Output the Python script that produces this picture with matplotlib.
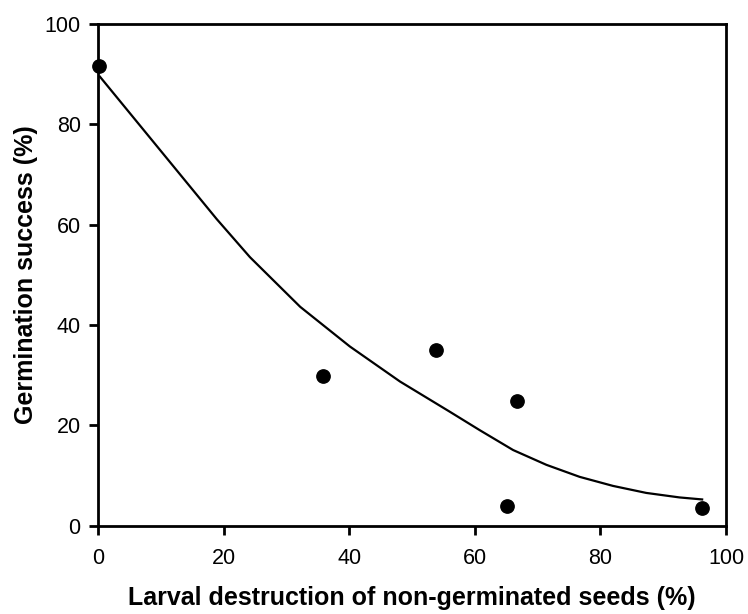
import matplotlib
matplotlib.use("Agg")
import matplotlib.pyplot as plt

plt.rcParams['font.family'] = ['Liberation Sans', 'DejaVu Sans']

# observed points
destruction = [0.2, 35.8, 53.8, 65.2, 66.7, 96.2]
germination = [91.6, 29.9, 34.9, 3.9, 24.8, 3.4]

# fitted trend curve
curve_x = [0.3, 9.6, 18.9, 24.2, 32.2, 40.1, 48.1, 56.0, 60.8, 66.1, 71.4, 76.7, 82.0, 87.3, 92.6, 96.2]
curve_y = [89.5, 75.3, 61.1, 53.5, 43.6, 35.7, 28.7, 22.7, 19.0, 15.05, 12.1, 9.7, 7.9, 6.5, 5.6, 5.2]

x_ticks = [0, 20, 40, 60, 80, 100]
y_ticks = [0, 20, 40, 60, 80, 100]

fig = plt.figure(figsize=(7.48, 6.14), dpi=100)
ax = fig.add_axes([0.131, 0.1441, 0.8396, 0.8169])

ax.plot(curve_x, curve_y, color='black', lw=1.6, zorder=2)
ax.scatter(destruction, germination, s=92, color='black', zorder=3, clip_on=False)

ax.set_xlim(0, 100)
ax.set_ylim(0, 100)
ax.set_xticks(x_ticks)
ax.set_yticks(y_ticks)
for s in ax.spines.values():
    s.set_linewidth(2.0)
ax.tick_params(direction='out', length=6.5, width=2.0, labelsize=15.5)
ax.tick_params(axis='x', pad=10)
ax.tick_params(axis='y', pad=6)

ax.set_xlabel('Larval destruction of non-germinated seeds (%)', fontsize=18, fontweight='bold', labelpad=12)
ax.set_ylabel('Germination success (%)', fontsize=18, fontweight='bold', labelpad=5)

fig.savefig('out.png', dpi=100)
